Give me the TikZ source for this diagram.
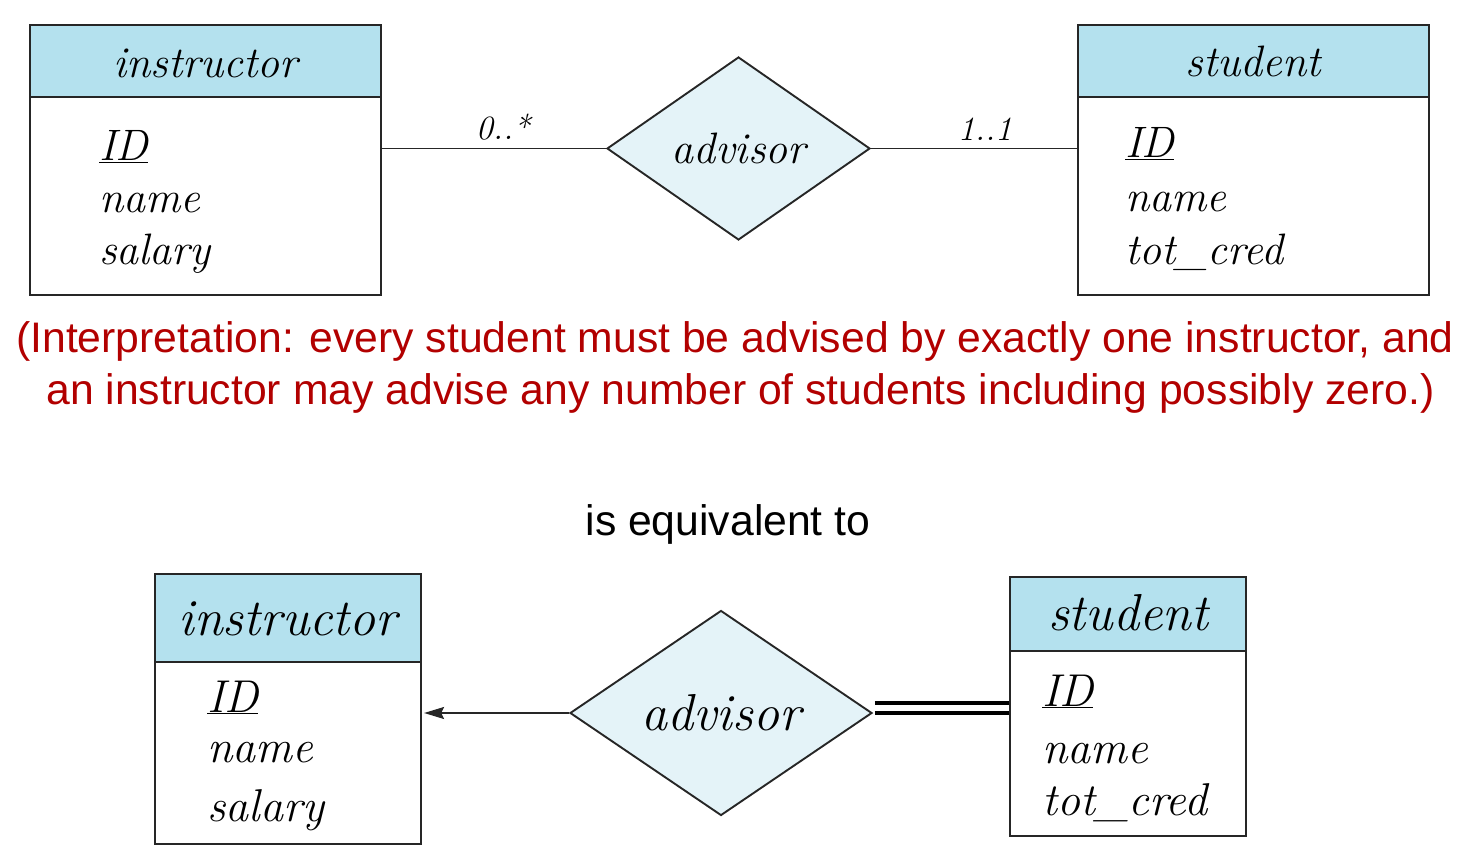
\documentclass[tikz,border=0pt]{standalone}
\usepackage{fontspec}
\newfontfamily\sansfont{Liberation Sans}
\usetikzlibrary{shapes.geometric,arrows.meta,calc}
\definecolor{hdr}{RGB}{180,225,238}
\definecolor{dia}{RGB}{228,243,248}
\definecolor{redtxt}{RGB}{178,0,0}
\begin{document}
\begin{tikzpicture}[x=1pt,y=-1pt,
  boxline/.style={draw=black!85,line width=2.2pt},
  hdrbox/.style={boxline,fill=hdr,rectangle,inner sep=0pt},
  bodybox/.style={boxline,fill=white,rectangle,inner sep=0pt},
  reldia/.style={boxline,line width=1.9pt,fill=dia,diamond,inner sep=0pt},
  attr/.style={anchor=base west,inner sep=0pt,font=\fontsize{#1}{#1}\selectfont\itshape},
  ttl/.style={anchor=base,inner sep=0pt,font=\fontsize{#1}{#1}\selectfont\itshape},
  conn/.style={draw=black!85,line width=1.9pt},
  mult/.style={anchor=base,inner sep=0pt,font=\fontsize{34}{34}\selectfont\itshape},
  redline/.style={anchor=base,inner sep=0pt,text=redtxt,font=\sansfont\fontsize{42.7}{42.7}\selectfont},
  dblline/.style={draw=black,line width=4pt}
]
\useasboundingbox (0,0) rectangle (1460,858);

% ---------- top diagram ----------
\node[hdrbox,minimum width=351,minimum height=72] (hI) at (205.5,61) {};
\node[bodybox,minimum width=351,minimum height=198] (bI) at (205.5,196) {};
\node[ttl=44] (tI) at (205.5,78) {instructor};
\node[attr=44] (aI1) at (99,161) {\underline{ID}};
\node[attr=44] (aI2) at (99,213) {name};
\node[attr=44] (aI3) at (99,265) {salary};

\node[hdrbox,minimum width=351,minimum height=72] (hS) at (1253.5,61) {};
\node[bodybox,minimum width=351,minimum height=198] (bS) at (1253.5,196) {};
\node[ttl=44] (tS) at (1253.5,77) {student};
\node[attr=44] (aS1) at (1125,158) {\underline{ID}};
\node[attr=44] (aS2) at (1125,212) {name};
\node[attr=44] (aS3) at (1125,265) {tot\_cred};

\node[reldia,minimum width=263,minimum height=183,font=\fontsize{44}{44}\selectfont\itshape] (rT) at (738.5,148.5) {advisor};

\draw[conn] (rT.west -| bI.east) -- (rT.west);
\draw[conn] (rT.east) -- (rT.east -| bS.west);
\node[mult] (m1) at (503,140) {0..*};
\node[mult] (m2) at (985,141) {1..1};

% ---------- interpretation ----------
\node[redline] (int1) at (735,353) {(Interpretation: every student must be advised by exactly one instructor, and};
\node[redline] (int2) at (740.5,405) {an instructor may advise any number of students including possibly zero.)};

\node[anchor=base,inner sep=0pt,font=\sansfont\fontsize{42.7}{42.7}\selectfont] (eq) at (728,535) {is equivalent to};

% ---------- bottom diagram ----------
\node[hdrbox,minimum width=266,minimum height=88] (hI2) at (288,618) {};
\node[bodybox,minimum width=266,minimum height=182] (bI2) at (288,753) {};
\node[ttl=52] (tI2) at (288,635) {instructor};
\node[attr=46] (bI2a) at (207,712) {\underline{ID}};
\node[attr=46] (bI2b) at (207,762) {name};
\node[attr=46] (bI2c) at (207,821) {salary};

\node[hdrbox,minimum width=236,minimum height=74] (hS2) at (1128,614) {};
\node[bodybox,minimum width=236,minimum height=185] (bS2) at (1128,743.5) {};
\node[ttl=52] (tS2) at (1128,630) {student};
\node[attr=46] (bS2a) at (1042,706) {\underline{ID}};
\node[attr=46] (bS2b) at (1042,763) {name};
\node[attr=46] (bS2c) at (1042,815) {tot\_cred};

\node[reldia,minimum width=302,minimum height=205,font=\fontsize{52}{52}\selectfont\itshape] (rB) at (721,713) {advisor};

\draw[conn,-{Stealth[length=20pt,width=12pt,inset=3pt]}] (rB.west) -- ($(rB.west -| bI2.east)+(2,0)$);
\draw[dblline] ($(rB.east)+(2,0)$) -- (rB.east -| bS2.west);
\draw[dblline] ($(rB.east)+(2,-10)$) -- ($(rB.east -| bS2.west)+(0,-10)$);
\end{tikzpicture}
\end{document}
